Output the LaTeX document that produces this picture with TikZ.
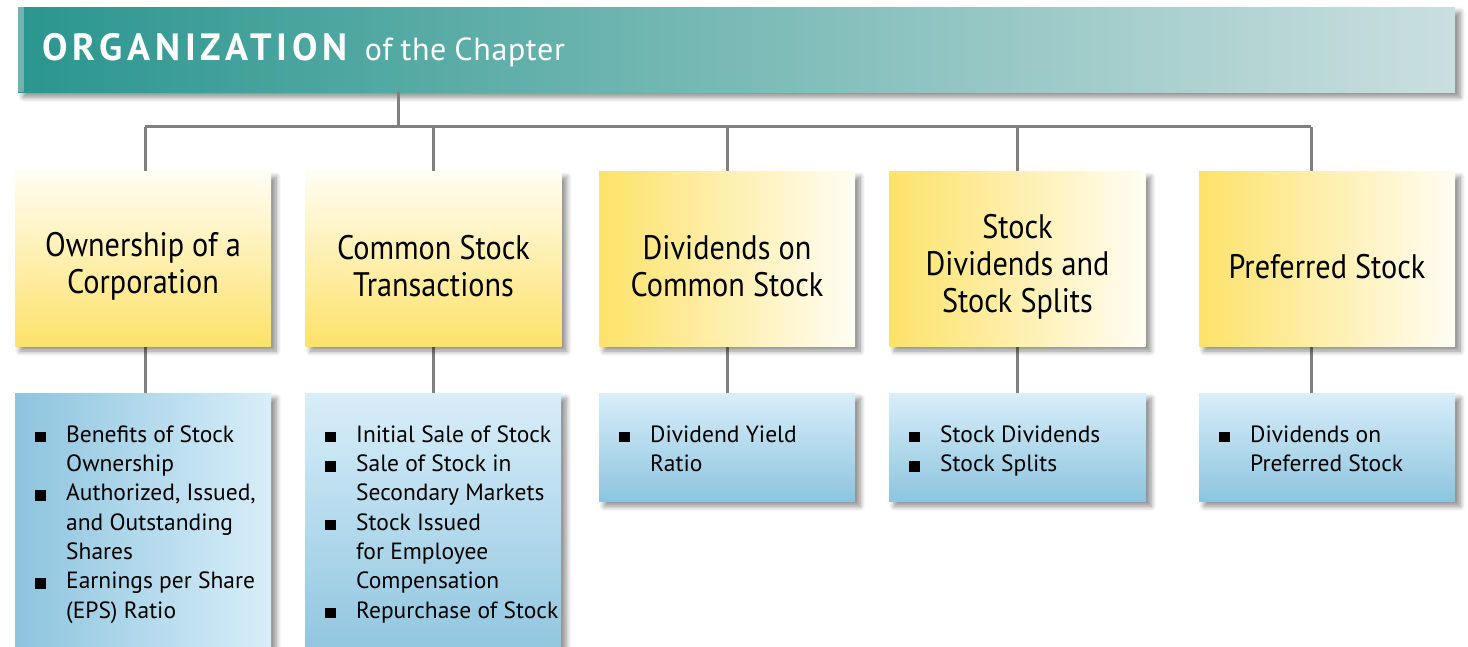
\documentclass[tikz,border=0pt]{standalone}
\usepackage{fontspec}
\setmainfont{PT Sans}
\newfontfamily\yfont[FakeStretch=0.89]{PT Sans}
\usetikzlibrary{shadows.blur}
\definecolor{hdrL}{RGB}{42,150,142}
\definecolor{hdrR}{RGB}{202,223,223}
\definecolor{hdrStrip}{RGB}{112,178,173}
\definecolor{yDark}{RGB}{253,226,106}
\definecolor{yLight}{RGB}{255,253,243}
\definecolor{bLight}{RGB}{216,238,249}
\definecolor{bDark}{RGB}{141,196,222}
\definecolor{connGray}{RGB}{128,128,128}
\newcommand{\bl}[1]{\makebox[51pt][l]{\hspace*{20pt}\rule{10.5pt}{10.5pt}}#1\\}
\newcommand{\cl}[1]{\hspace*{51pt}#1\\}
\newcommand{\firstline}{\rule{0pt}{49pt}}
\newcommand{\ytop}{\rule{0pt}{39pt}}
\begin{document}
\begin{tikzpicture}[x=1pt,y=-1pt,
  shd/.style={blur shadow={shadow xshift=5pt, shadow yshift=-5pt, shadow blur steps=8, shadow opacity=45, shadow blur radius=5pt}},
  ybox/.style={shd, minimum width=256pt, minimum height=174pt, inner sep=0pt, align=center,
     font=\yfont\fontsize{34}{37}\selectfont},
  yv/.style={ybox, top color=yLight, bottom color=yDark},
  yh/.style={ybox, left color=yDark, right color=yLight},
  bbox/.style={shd, inner sep=0pt, anchor=north west, font=\fontsize{23.5}{29.3}\selectfont},
  bv/.style={bbox, top color=bLight, bottom color=bDark},
  bh/.style={bbox, left color=bDark, right color=bLight},
  conn/.style={draw=connGray, line width=3pt},
  hdrbox/.style={shd, anchor=north west, minimum height=85pt, text width=1437pt, inner xsep=0pt,
     align=left, left color=hdrL, right color=hdrR, text=white}
]
\useasboundingbox (0,0) rectangle (1468,647);
\clip (0,0) rectangle (1468,647);

% connector coordinates
\coordinate (j) at (398,127);
\coordinate (t1) at (145,127);
\coordinate (t2) at (433,127);
\coordinate (t3) at (727,127);
\coordinate (t4) at (1017,127);
\coordinate (t5) at (1311,127);

% header
\node[hdrbox] (hdr) at (18,7) {\hspace*{24pt}\raisebox{-6pt}{{\fontsize{38}{38}\selectfont\bfseries\addfontfeatures{LetterSpace=13}ORGANIZATION}\hspace*{17pt}{\fontsize{32}{34}\selectfont\addfontfeatures{LetterSpace=2}of\hspace*{8pt}the\hspace*{8pt}Chapter}}};
\fill[hdrStrip] (hdr.north west) rectangle ([xshift=6pt]hdr.south west);

% connectors
\draw[conn] (hdr.south -| j) -- (j);
\draw[conn] (t1) -- (t5);
\foreach \i in {1,...,5} {
  \draw[conn] (t\i) -- ++(0,46);
  \draw[conn] ([yshift=-219pt]t\i) -- ++(0,48);
}

% yellow boxes
\node[yv] (y1) at (143,259) {\ytop Ownership of a\\Corporation};
\node[yv] (y2) at (433.5,259) {\ytop Common Stock\\Transactions};
\node[yh] (y3) at (727,259) {\ytop Dividends on\\Common Stock};
\node[yh] (y4) at (1017.5,259) {\ytop Stock\\Dividends and\\Stock Splits};
\node[yh] (y5) at (1327,259) {\ytop Preferred Stock};

% blue boxes
\node[bh] (b1) at (15,393) {\parbox[c][270pt][t]{256pt}{%
  \firstline\bl{Benefits of Stock}\cl{Ownership}\bl{Authorized, Issued,}\cl{and Outstanding}\cl{Shares}\bl{Earnings per Share}\cl{(EPS) Ratio}}};
\node[bv] (b2) at (305,393) {\parbox[c][270pt][t]{256pt}{%
  \firstline\bl{Initial Sale of Stock}\bl{Sale of Stock in}\cl{Secondary Markets}\bl{Stock Issued}\cl{for Employee}\cl{Compensation}\bl{Repurchase of Stock}}};
\node[bv] (b3) at (599,393) {\parbox[c][108pt][t]{256pt}{%
  \firstline\bl{Dividend Yield}\cl{Ratio}}};
\node[bv] (b4) at (889,393) {\parbox[c][108pt][t]{257pt}{%
  \firstline\bl{Stock Dividends}\bl{Stock Splits}}};
\node[bv] (b5) at (1199,393) {\parbox[c][108pt][t]{256pt}{%
  \firstline\bl{Dividends on}\cl{Preferred Stock}}};
\end{tikzpicture}
\end{document}
